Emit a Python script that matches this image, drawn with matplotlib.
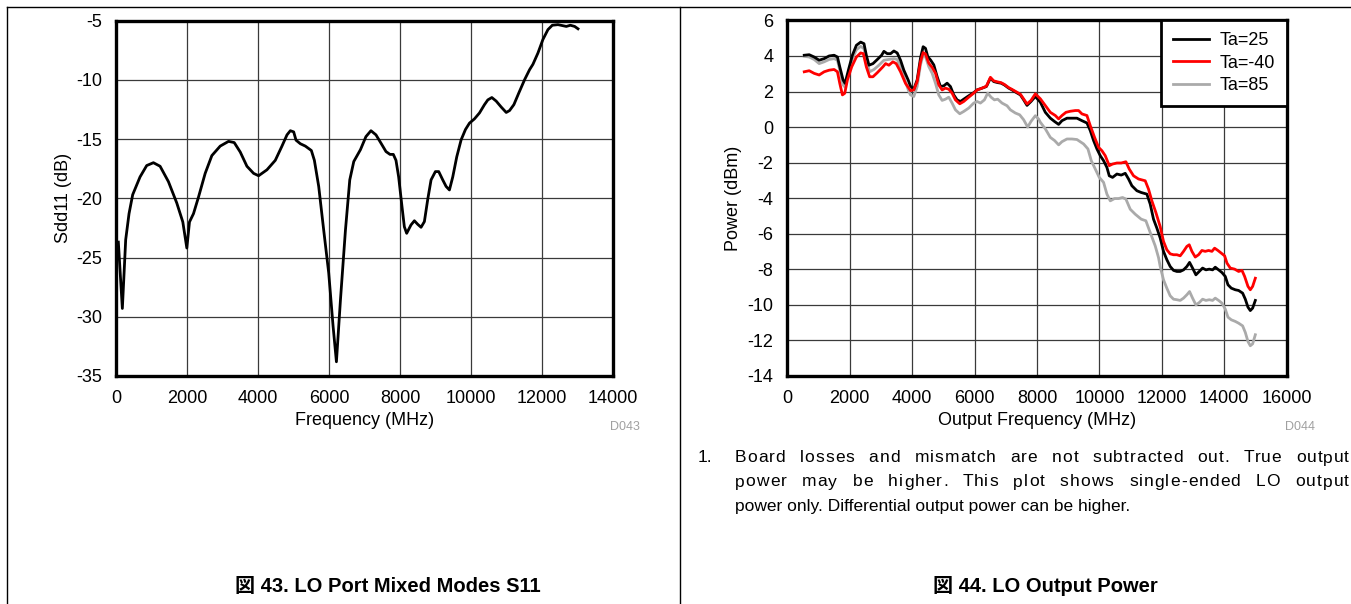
import matplotlib
matplotlib.use("Agg")
import matplotlib.pyplot as plt
from matplotlib.lines import Line2D
from matplotlib.font_manager import FontProperties

plt.rcParams['font.family'] = ['Liberation Sans', 'Noto Sans CJK JP', 'DejaVu Sans']
plt.rcParams['axes.unicode_minus'] = False

# ---- Figure 43 : LO port mixed-mode S11 ----
s11_freq = [66, 179, 273, 367, 470, 677, 865, 1054, 1242, 1477, 1712, 1882, 1995,
            2070, 2183, 2324, 2512, 2700, 2935, 3170, 3330, 3500, 3688, 3876, 4017,
            4252, 4487, 4675, 4817, 4911, 5005, 5071, 5193, 5334, 5503, 5588, 5710,
            5851, 5992, 6115, 6209, 6322, 6463, 6585, 6698, 6886, 7040, 7182, 7323,
            7464, 7605, 7718, 7812, 7887, 7962, 8056, 8122, 8188, 8310, 8405, 8499,
            8593, 8687, 8781, 8875, 8997, 9091, 9204, 9298, 9392, 9486, 9599, 9722,
            9844, 9957, 10098, 10239, 10380, 10474, 10587, 10709, 10850, 10992,
            11086, 11208, 11349, 11509, 11650, 11744, 11885, 12026, 12167, 12290,
            12450, 12685, 12798, 12920, 13014]
s11_db = [-23.7, -29.3, -23.5, -21.3, -19.7, -18.2, -17.24, -17.0, -17.3, -18.6, -20.4,
          -22.0, -24.2, -22.0, -21.3, -19.9, -17.9, -16.4, -15.6, -15.2, -15.3, -16.1,
          -17.3, -17.9, -18.1, -17.6, -16.8, -15.6, -14.65, -14.3, -14.4, -15.1, -15.4,
          -15.6, -15.97, -16.8, -19.0, -22.7, -26.3, -30.8, -33.8, -28.6, -22.7, -18.45,
          -16.9, -15.9, -14.8, -14.3, -14.65, -15.35, -16.06, -16.3, -16.3, -16.8, -18.2,
          -20.7, -22.4, -22.96, -22.25, -21.9, -22.2, -22.45, -21.97, -20.1, -18.45,
          -17.75, -17.75, -18.45, -19.0, -19.3, -18.2, -16.5, -15.07, -14.2, -13.66,
          -13.3, -12.8, -12.1, -11.7, -11.5, -11.8, -12.3, -12.76, -12.6, -12.1, -11.1,
          -10.0, -9.15, -8.7, -7.75, -6.6, -5.77, -5.4, -5.35, -5.5, -5.4, -5.5, -5.7]

# ---- Figure 44 : LO output power ----
f25 = [543, 702, 862, 1021, 1181, 1340, 1500, 1606, 1681, 1787, 1851, 1957, 2085, 2213,
       2351, 2457, 2532, 2617, 2745, 2883, 3021, 3096, 3202, 3309, 3415, 3521, 3628,
       3734, 3872, 3947, 4053, 4160, 4267, 4352, 4427, 4501, 4587, 4693, 4800, 4907,
       5013, 5120, 5227, 5333, 5440, 5547, 5653, 5813, 5973, 6080, 6240, 6379, 6507,
       6613, 6741, 6848, 6955, 7093, 7200, 7339, 7467, 7573, 7680, 7808, 7947, 8107,
       8267, 8427, 8565, 8693, 8800, 8960, 9120, 9280, 9440, 9600, 9707, 9813, 9920,
       10027, 10133, 10240, 10315, 10421, 10560, 10699, 10827, 10933, 11040, 11200,
       11339, 11520, 11627, 11733, 11840, 11947, 12053, 12160, 12267, 12374, 12481,
       12588, 12695, 12802, 12888, 12984, 13091, 13198, 13305, 13412, 13519, 13626,
       13711, 13818, 13925, 14032, 14118, 14225, 14353, 14460, 14588, 14674, 14759,
       14834, 14909, 14995]
p25 = [4.04, 4.07, 3.94, 3.76, 3.85, 4.0, 4.04, 3.94, 3.39, 2.65, 2.46, 3.2, 4.04, 4.6,
       4.78, 4.69, 4.04, 3.48, 3.57, 3.8, 4.04, 4.26, 4.13, 4.13, 4.28, 4.17, 3.76,
       3.2, 2.65, 2.3, 2.13, 2.65, 3.87, 4.52, 4.43, 3.96, 3.78, 3.5, 2.84, 2.28,
       2.32, 2.47, 2.28, 1.81, 1.53, 1.44, 1.57, 1.76, 1.94, 2.09, 2.19, 2.28, 2.75,
       2.56, 2.5, 2.47, 2.37, 2.19, 2.09, 1.94, 1.81, 1.53, 1.22, 1.44, 1.72, 1.4,
       0.83, 0.5, 0.31, 0.15, 0.36, 0.5, 0.5, 0.5, 0.36, 0.23, -0.2, -0.76, -1.23,
       -1.61, -1.89, -2.27, -2.74, -2.83, -2.64, -2.7, -2.6, -2.92, -3.3, -3.58,
       -3.68, -3.77, -4.33, -5.18, -5.68, -6.24, -6.99, -7.46, -7.84, -8.06, -8.12,
       -8.12, -8.03, -7.84, -7.61, -7.93, -8.31, -8.12, -7.93, -8.03, -7.99, -8.03,
       -7.88, -8.03, -8.18, -8.4, -8.87, -9.06, -9.15, -9.19, -9.34, -9.68, -10.13,
       -10.32, -10.18, -9.75]

fm40 = [543, 702, 862, 1021, 1181, 1340, 1500, 1606, 1681, 1766, 1840, 1926, 2064,
        2213, 2351, 2436, 2532, 2638, 2745, 2883, 3064, 3149, 3255, 3383, 3489, 3628,
        3787, 3947, 4053, 4160, 4267, 4352, 4427, 4533, 4640, 4747, 4853, 4960, 5067,
        5173, 5280, 5387, 5525, 5653, 5813, 5973, 6080, 6240, 6379, 6507, 6613, 6741,
        6848, 6955, 7093, 7200, 7339, 7467, 7573, 7680, 7808, 7947, 8107, 8267, 8427,
        8587, 8693, 8800, 8928, 9067, 9227, 9333, 9440, 9600, 9707, 9845, 9973, 10080,
        10187, 10315, 10421, 10560, 10699, 10848, 10955, 11093, 11253, 11467, 11573,
        11680, 11808, 11947, 12053, 12160, 12267, 12374, 12481, 12588, 12695, 12802,
        12877, 12963, 13070, 13176, 13283, 13390, 13497, 13604, 13690, 13797, 13904,
        14011, 14086, 14193, 14332, 14460, 14567, 14652, 14759, 14834, 14909, 14995]
pm40 = [3.11, 3.17, 3.02, 2.93, 3.11, 3.2, 3.24, 3.11, 2.46, 1.81, 1.9, 2.65, 3.39,
        3.94, 4.17, 4.13, 3.39, 2.83, 2.83, 3.06, 3.39, 3.57, 3.48, 3.67, 3.57, 3.11,
        2.46, 2.05, 2.09, 2.56, 3.68, 4.19, 4.11, 3.59, 3.36, 3.03, 2.37, 2.09, 2.19,
        2.13, 1.91, 1.53, 1.31, 1.44, 1.68, 1.91, 2.09, 2.19, 2.3, 2.8, 2.6, 2.54,
        2.5, 2.4, 2.22, 2.12, 1.98, 1.85, 1.58, 1.3, 1.5, 1.87, 1.59, 1.21, 0.83,
        0.65, 0.46, 0.65, 0.83, 0.89, 0.93, 0.93, 0.74, 0.65, 0.08, -0.58, -1.14,
        -1.33, -1.61, -2.17, -2.08, -2.02, -2.02, -1.95, -2.36, -2.74, -2.92, -3.02,
        -3.49, -4.15, -4.8, -5.6, -6.43, -6.9, -7.13, -7.18, -7.18, -7.24, -6.99,
        -6.71, -6.62, -6.99, -7.31, -7.18, -6.94, -6.99, -6.94, -6.99, -6.81, -6.94,
        -7.09, -7.24, -7.65, -7.93, -7.99, -8.12, -8.06, -8.4, -8.96, -9.15, -8.96,
        -8.5]

f85 = [543, 702, 862, 1021, 1181, 1340, 1500, 1606, 1681, 1787, 1851, 1957, 2085, 2213,
       2351, 2457, 2532, 2638, 2777, 2936, 3096, 3234, 3415, 3521, 3628, 3766, 3894,
       3947, 4053, 4160, 4267, 4352, 4427, 4533, 4640, 4747, 4853, 4960, 5067, 5173,
       5280, 5387, 5525, 5653, 5813, 5973, 6080, 6187, 6315, 6421, 6528, 6635, 6741,
       6880, 7040, 7147, 7307, 7445, 7573, 7701, 7808, 7947, 8053, 8107, 8267, 8427,
       8565, 8693, 8800, 8960, 9120, 9280, 9493, 9632, 9739, 9867, 9995, 10133, 10240,
       10347, 10485, 10613, 10741, 10848, 10987, 11147, 11339, 11488, 11627, 11787,
       11893, 11947, 12053, 12160, 12267, 12374, 12481, 12588, 12695, 12802, 12888,
       12984, 13091, 13198, 13305, 13412, 13519, 13626, 13711, 13818, 13925, 14032,
       14118, 14225, 14353, 14460, 14588, 14674, 14759, 14834, 14909, 14995]
p85 = [3.98, 3.94, 3.8, 3.57, 3.67, 3.8, 3.85, 3.76, 3.2, 2.37, 2.24, 3.02, 3.85, 4.35,
       4.54, 4.41, 3.76, 3.11, 3.24, 3.48, 3.76, 3.8, 3.85, 3.8, 3.39, 2.65, 2.0,
       1.81, 1.72, 2.28, 3.5, 4.06, 3.96, 3.4, 3.03, 2.47, 1.81, 1.5, 1.57, 1.68,
       1.35, 0.97, 0.75, 0.88, 1.07, 1.35, 1.44, 1.35, 1.53, 1.91, 1.68, 1.53, 1.57,
       1.35, 1.2, 0.97, 0.79, 0.69, 0.41, 0.0, 0.32, 0.64, 0.45, 0.27, -0.1, -0.58,
       -0.76, -1.0, -0.82, -0.67, -0.67, -0.7, -0.95, -1.23, -1.89, -2.36, -2.83,
       -3.11, -3.77, -4.15, -4.02, -4.02, -3.96, -4.05, -4.62, -4.9, -5.18, -5.27,
       -5.93, -6.68, -7.34, -7.84, -8.59, -9.06, -9.49, -9.68, -9.71, -9.75, -9.62,
       -9.43, -9.25, -9.62, -10.0, -9.87, -9.68, -9.75, -9.71, -9.75, -9.62, -9.75,
       -9.9, -10.24, -10.69, -10.84, -10.93, -11.03, -11.18, -11.55, -12.06, -12.3,
       -12.19, -11.68]

note = ['Board losses and mismatch are not subtracted out. True output',
        'power may be higher. This plot shows single-ended LO output',
        'power only. Differential output power can be higher.']

W, H = 1351, 604
fig = plt.figure(figsize=(W / 100, H / 100), dpi=100)


def fx(px):
    return px / W


def fy(py):
    return 1 - py / H


def style(ax):
    for s in ax.spines.values():
        s.set_linewidth(2.4)
        s.set_color('black')
    ax.grid(True, color='#3a3a3a', linewidth=0.9)
    ax.set_axisbelow(True)
    ax.tick_params(length=0, labelsize=13, colors='black')
    ax.tick_params(axis='y', pad=10)
    ax.tick_params(axis='x', pad=10)


# left chart
ax1 = fig.add_axes([fx(116), fy(376), fx(613 - 116), (376 - 20.5) / H])
ax1.plot(s11_freq, s11_db, color='black', linewidth=2.0)
ax1.set_xlim(0, 14000)
ax1.set_ylim(-35, -5)
ax1.set_xticks(range(0, 14001, 2000))
ax1.set_yticks(range(-35, -4, 5))
style(ax1)
ax1.set_xlabel('Frequency (MHz)', fontsize=13, labelpad=4)
ax1.set_ylabel('Sdd11 (dB)', fontsize=13, labelpad=3)
fig.text(fx(640), fy(427), 'D043', fontsize=9, color='#a0a0a0', ha='right', va='center')

# right chart
ax2 = fig.add_axes([fx(787.3), fy(376), fx(1286.7 - 787.3), (376 - 20.4) / H])
ax2.plot(f25, p25, color='black', linewidth=2.0, label='Ta=25', zorder=3)
ax2.plot(fm40, pm40, color='#ff0000', linewidth=2.0, label='Ta=-40', zorder=4)
ax2.plot(f85, p85, color='#aaaaaa', linewidth=2.0, label='Ta=85', zorder=2)
ax2.set_xlim(0, 16000)
ax2.set_ylim(-14, 6)
ax2.set_xticks(range(0, 16001, 2000))
ax2.set_yticks(range(-14, 7, 2))
style(ax2)
ax2.set_xlabel('Output Frequency (MHz)', fontsize=13, labelpad=4)
ax2.set_ylabel('Power (dBm)', fontsize=13, labelpad=4)
leg = ax2.legend(loc='upper right', fontsize=13, fancybox=False, edgecolor='black',
                 framealpha=1, borderaxespad=0, handlelength=2.0, labelspacing=0.3,
                 borderpad=0.65, handletextpad=0.6)
leg.get_frame().set_linewidth(2.0)
fig.text(fx(1315), fy(427), 'D044', fontsize=9, color='#a0a0a0', ha='right', va='center')

# footnote: first two lines justified to the page edge by spreading
# the extra room over word gaps and letter gaps
fsize = 12.5
fig.text(fx(698), fy(458), '1.', fontsize=fsize, va='center')
fig.canvas.draw()
rend = fig.canvas.get_renderer()
prop = FontProperties(family=['Liberation Sans'], size=fsize)
ref_w = rend.get_text_width_height_descent('l', prop, ismath=False)[0]


def adv(s):
    # advance width of s in pixels, trailing spaces included
    return rend.get_text_width_height_descent(s + 'l', prop, ismath=False)[0] - ref_w


for i, line in enumerate(note):
    y = fy(458 + 24 * i)
    if i == len(note) - 1:
        fig.text(fx(735), y, line, fontsize=fsize, va='center')
        continue
    extra = (1349 - 735) - adv(line)
    n_sp = line.count(' ')
    n_gap = len(line) - 1
    per_sp = 0.55 * extra / n_sp
    per_ch = 0.45 * extra / n_gap
    spaces = 0
    for k, ch in enumerate(line):
        if ch == ' ':
            spaces += 1
            continue
        x = 735 + adv(line[:k]) + k * per_ch + spaces * per_sp
        fig.text(fx(x), y, ch, fontsize=fsize, va='center')

# captions
fig.text(fx(388), fy(586), '図 43. LO Port Mixed Modes S11', fontsize=14.5,
         fontweight='bold', ha='center', va='center')
fig.text(fx(1045), fy(586), '図 44. LO Output Power', fontsize=14.5,
         fontweight='bold', ha='center', va='center')

# page frame lines
fig.add_artist(Line2D([fx(7), 1], [fy(7), fy(7)], color='black', linewidth=1))
fig.add_artist(Line2D([fx(7), fx(7)], [fy(7), 0], color='black', linewidth=1))
fig.add_artist(Line2D([fx(680), fx(680)], [fy(7), 0], color='black', linewidth=1))

fig.savefig('out.png', dpi=100)
